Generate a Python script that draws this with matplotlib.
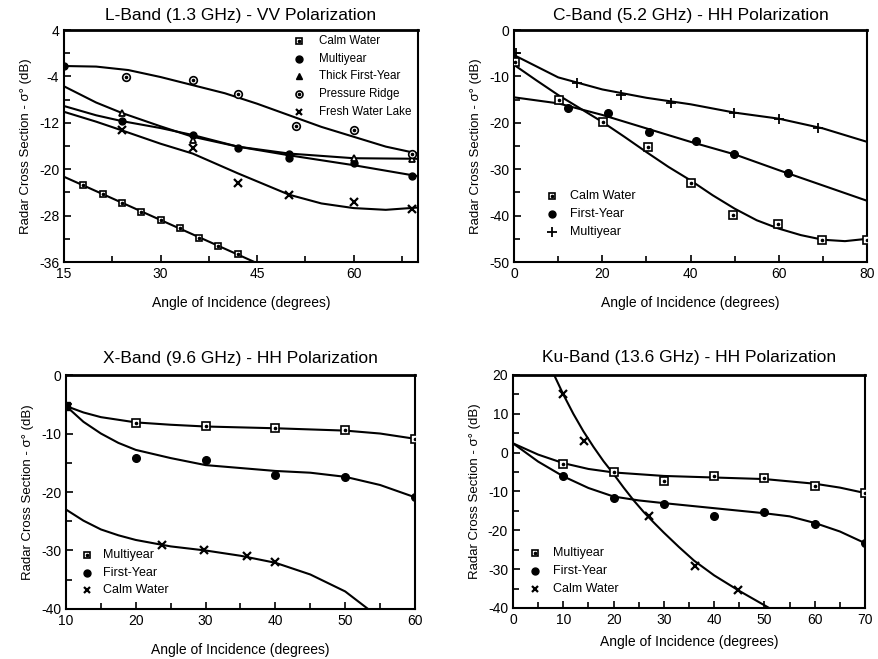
import numpy as np
import matplotlib as mpl
mpl.use('Agg')
from matplotlib import pyplot as plt

plt.rcParams['font.family'] = ['Liberation Sans', 'DejaVu Sans']
plt.rcParams['axes.unicode_minus'] = False

# ---------------- L-Band (1.3 GHz) - VV ----------------
l_calm_x = [18, 21, 24, 27, 30, 33, 36, 39, 42]
l_calm_y = [-22.8, -24.2, -25.8, -27.3, -28.8, -30.2, -31.9, -33.2, -34.7]
l_calm_cx = [15, 45]
l_calm_cy = [-21.3, -36.2]

l_multi_x = [15, 24, 35, 42, 50, 50, 60, 69]
l_multi_y = [-2.2, -11.7, -14.1, -16.3, -17.4, -18.0, -18.9, -21.2]
l_multi_cx = [15, 20, 24, 30, 35, 42, 50, 60, 70]
l_multi_cy = [-9.1, -10.7, -11.7, -12.9, -14.1, -16.1, -17.6, -19.3, -21.2]

l_thick_x = [24, 35, 60, 69]
l_thick_y = [-10.3, -15.0, -18.0, -18.3]
l_thick_cx = [15, 20, 24, 30, 35, 42, 50, 60, 70]
l_thick_cy = [-5.7, -8.5, -10.3, -12.6, -14.4, -16.1, -17.3, -18.1, -18.2]

l_ridge_x = [24.7, 35, 42, 51, 60, 69]
l_ridge_y = [-4.1, -4.6, -7.1, -12.6, -13.3, -17.3]
l_ridge_cx = [15, 20, 25, 30, 35, 40, 45, 50, 55, 60, 65, 70]
l_ridge_cy = [-2.2, -2.3, -2.9, -4.1, -5.5, -6.9, -8.7, -10.7, -12.7, -14.4, -16.1, -17.3]

l_lake_x = [24, 35, 42, 50, 60, 69]
l_lake_y = [-13.3, -16.3, -22.4, -24.4, -25.6, -26.8]
l_lake_cx = [15, 20, 24, 30, 35, 42, 50, 55, 60, 65, 70]
l_lake_cy = [-10.1, -11.8, -13.3, -15.6, -17.3, -20.7, -24.4, -25.9, -26.7, -27.0, -26.6]

# ---------------- C-Band (5.2 GHz) - HH ----------------
c_calm_x = [0.2, 10.2, 20.2, 30.3, 40.2, 49.7, 59.8, 69.8, 80]
c_calm_y = [-6.8, -15.0, -19.9, -25.2, -32.9, -39.9, -41.9, -45.2, -45.2]
c_calm_cx = [0, 5, 10, 15, 20, 25, 30, 35, 40, 45, 50, 55, 60, 65, 70, 75, 80]
c_calm_cy = [-7.5, -10.8, -14.0, -16.9, -19.8, -23.0, -26.3, -29.5, -32.4,
             -35.6, -38.5, -41.0, -42.8, -44.2, -45.2, -45.5, -45.0]

c_first_x = [12.2, 21.2, 30.6, 41.2, 49.8, 62.1]
c_first_y = [-16.9, -17.8, -21.9, -24.0, -26.8, -30.9]
c_first_cx = [0, 10, 20, 30, 40, 50, 60, 70, 80]
c_first_cy = [-14.5, -15.8, -18.3, -21.2, -24.1, -26.8, -30.2, -33.5, -36.8]

c_multi_x = [0.5, 14.3, 24.2, 35.5, 49.8, 60, 68.9]
c_multi_y = [-4.9, -11.5, -13.9, -15.8, -17.8, -19.1, -21.1]
c_multi_cx = [0, 10, 20, 30, 40, 50, 60, 70, 80]
c_multi_cy = [-5.4, -10.2, -12.8, -14.6, -16.0, -17.8, -19.1, -21.2, -24.1]

# ---------------- X-Band (9.6 GHz) - HH ----------------
x_multi_x = [10, 20, 30, 40, 50, 60]
x_multi_y = [-5.3, -8.25, -8.65, -9.1, -9.4, -10.9]
x_multi_cx = [10, 12.5, 15, 20, 25, 30, 40, 50, 55, 60]
x_multi_cy = [-5.3, -6.4, -7.2, -8.1, -8.5, -8.8, -9.1, -9.5, -10.0, -10.9]

x_first_x = [20, 30, 40, 50, 60]
x_first_y = [-14.1, -14.5, -17.1, -17.5, -20.9]
x_first_cx = [10, 12.5, 15, 17.5, 20, 25, 30, 35, 40, 45, 50, 55, 60]
x_first_cy = [-5.3, -8.0, -10.0, -11.6, -12.8, -14.2, -15.4, -15.9, -16.4,
              -16.7, -17.4, -18.8, -20.9]

x_calm_x = [23.8, 29.8, 36, 40]
x_calm_y = [-29.0, -30.0, -31.0, -31.9]
x_calm_cx = [10, 12.5, 15, 17.5, 20, 25, 30, 35, 40, 45, 50, 53.5]
x_calm_cy = [-23.0, -24.9, -26.4, -27.4, -28.2, -29.3, -30.0, -30.9, -32.1,
             -34.1, -37.0, -40.2]

# ---------------- Ku-Band (13.6 GHz) - HH ----------------
k_multi_x = [10, 20.1, 30.1, 40, 49.9, 60, 70]
k_multi_y = [-2.9, -4.9, -7.2, -6.1, -6.6, -8.5, -10.4]
k_multi_cx = [0, 5, 10, 15, 20, 30, 40, 50, 60, 65, 70]
k_multi_cy = [2.4, -0.5, -2.7, -4.2, -5.1, -6.0, -6.4, -6.8, -8.0, -9.0, -10.4]

k_first_x = [10, 20.1, 30.1, 40, 49.9, 60, 70]
k_first_y = [-6.1, -11.7, -13.2, -16.3, -15.3, -18.4, -23.3]
k_first_cx = [0, 5, 10, 15, 20, 25, 30, 40, 50, 55, 60, 65, 70]
k_first_cy = [2.4, -2.3, -6.1, -9.1, -11.3, -12.3, -13.0, -14.3, -15.6, -16.4,
              -18.1, -20.3, -23.3]

k_calm_x = [10, 14.2, 27.1, 36.1, 44.8]
k_calm_y = [15.1, 3.1, -16.2, -29.1, -35.3]
k_calm_cx = [8, 10, 12, 14, 16, 18, 20, 22, 24, 26, 28, 30, 33, 36, 40, 45, 50, 52]
k_calm_cy = [20.5, 15.0, 10.0, 5.5, 1.5, -2.2, -5.5, -9.0, -12.3, -15.3, -18.0,
             -20.6, -24.3, -27.8, -31.6, -35.6, -39.3, -40.8]


def dotted(ax, x, y, marker, size):
    # open marker with a small dot inside, like the scanned symbols
    ax.plot(x, y, linestyle='none', marker=marker, ms=size, mfc='white',
            mec='black', mew=1.2, zorder=4)
    ax.plot(x, y, linestyle='none', marker='o', ms=1.6, mfc='black',
            mec='black', zorder=5)


def style(ax, title, xlim, ylim, xmaj, xmin, ymaj, ymin, title_pad=7):
    ax.set_xlim(xlim)
    ax.set_ylim(ylim)
    ax.set_xticks(np.arange(xlim[0], xlim[1] + 0.01, xmaj))
    ax.set_xticks(np.arange(xlim[0], xlim[1] + 0.01, xmin), minor=True)
    ax.set_yticks(np.arange(ylim[0], ylim[1] + 0.01, ymaj))
    ax.set_yticks(np.arange(ylim[0], ylim[1] + 0.01, ymin), minor=True)
    ax.tick_params(which='both', direction='in', top=False, right=False,
                   labelsize=10, width=1.2)
    ax.tick_params(which='major', length=5)
    ax.tick_params(which='minor', length=4)
    for s in ax.spines.values():
        s.set_linewidth(1.5)
    ax.spines['top'].set_linewidth(2.0)
    ax.set_title(title, fontsize=12.5, pad=title_pad)
    ax.set_xlabel('Angle of Incidence (degrees)', fontsize=10, labelpad=11)
    ax.set_ylabel('Radar Cross Section - σ° (dB)', fontsize=9.5, labelpad=5)


def legend_text(ax, x, y, name, size=9):
    ax.text(x, y, name, fontsize=size, va='center', ha='left')


fig = plt.figure(figsize=(8.79, 6.59), dpi=100)

line_kw = dict(color='black', lw=1.5, zorder=2, clip_on=True)

# L-Band
ax1 = fig.add_axes([0.0728, 0.6024, 0.4027, 0.352])
ax1.plot(l_calm_cx, l_calm_cy, **line_kw)
ax1.plot(l_multi_cx, l_multi_cy, **line_kw)
ax1.plot(l_thick_cx, l_thick_cy, **line_kw)
ax1.plot(l_ridge_cx, l_ridge_cy, **line_kw)
ax1.plot(l_lake_cx, l_lake_cy, **line_kw)
dotted(ax1, l_calm_x, l_calm_y, 's', 5)
ax1.plot(l_multi_x, l_multi_y, 'o', color='black', ms=5, zorder=4)
ax1.plot(l_thick_x, l_thick_y, '^', mfc='white', mec='black', mew=1.3, ms=5, zorder=4)
dotted(ax1, l_ridge_x, l_ridge_y, 'o', 5.5)
ax1.plot(l_lake_x, l_lake_y, 'x', color='black', mew=1.6, ms=6, zorder=4)
style(ax1, 'L-Band (1.3 GHz) - VV Polarization', (15, 70), (-36, 4), 15, 7.5, 8, 4)
ax1.set_xticks([15, 30, 45, 60])
ax1.set_yticks([4, -4, -12, -20, -28, -36])
leg1 = ['Calm Water', 'Multiyear', 'Thick First-Year', 'Pressure Ridge', 'Fresh Water Lake']
lx, tx = 51.5, 54.6
for i, name in enumerate(leg1):
    legend_text(ax1, tx, 2.1 - 3.05 * i, name, size=8.4)
dotted(ax1, [lx], [2.1], 's', 4.5)
ax1.plot([lx], [2.1 - 3.05], 'o', color='black', ms=5)
ax1.plot([lx], [2.1 - 6.1], '^', color='black', ms=5)
dotted(ax1, [lx], [2.1 - 9.15], 'o', 5)
ax1.plot([lx], [2.1 - 12.2], 'x', color='black', mew=1.6, ms=5)

# C-Band
ax2 = fig.add_axes([0.5848, 0.6024, 0.4016, 0.352])
ax2.plot(c_calm_cx, c_calm_cy, **line_kw)
ax2.plot(c_first_cx, c_first_cy, **line_kw)
ax2.plot(c_multi_cx, c_multi_cy, **line_kw)
dotted(ax2, c_calm_x, c_calm_y, 's', 6)
ax2.plot(c_first_x, c_first_y, 'o', color='black', ms=5.5, zorder=4)
ax2.plot(c_multi_x, c_multi_y, '+', color='black', mew=1.3, ms=7, zorder=4)
style(ax2, 'C-Band (5.2 GHz) - HH Polarization', (0, 80), (-50, 0), 20, 10, 10, 5)
lx, tx = 8.5, 12.6
for i, name in enumerate(['Calm Water', 'First-Year', 'Multiyear']):
    legend_text(ax2, tx, -35.8 - 3.9 * i, name)
dotted(ax2, [lx], [-35.8], 's', 5)
ax2.plot([lx], [-39.7], 'o', color='black', ms=5)
ax2.plot([lx], [-43.6], '+', color='black', mew=1.3, ms=7)

# X-Band
ax3 = fig.add_axes([0.0751, 0.0759, 0.397, 0.355])
ax3.plot(x_multi_cx, x_multi_cy, **line_kw)
ax3.plot(x_first_cx, x_first_cy, **line_kw)
ax3.plot(x_calm_cx, x_calm_cy, **line_kw)
dotted(ax3, x_multi_x[1:], x_multi_y[1:], 's', 6)
ax3.plot(x_multi_x[:1], x_multi_y[:1], 's', color='black', ms=6, zorder=4)
ax3.plot(x_first_x, x_first_y, 'o', color='black', ms=5.5, zorder=4)
ax3.plot(x_calm_x, x_calm_y, 'x', color='black', mew=1.6, ms=6, zorder=4)
style(ax3, 'X-Band (9.6 GHz) - HH Polarization', (10, 60), (-40, 0), 10, 5, 10, 5, title_pad=9)
lx, tx = 13.0, 15.3
for i, name in enumerate(['Multiyear', 'First-Year', 'Calm Water']):
    legend_text(ax3, tx, -30.8 - 3.0 * i, name)
dotted(ax3, [lx], [-30.8], 's', 5)
ax3.plot([lx], [-33.8], 'o', color='black', ms=5)
ax3.plot([lx], [-36.8], 'x', color='black', mew=1.6, ms=5)

# Ku-Band
ax4 = fig.add_axes([0.5836, 0.0774, 0.4005, 0.3536])
ax4.plot(k_multi_cx, k_multi_cy, **line_kw)
ax4.plot(k_first_cx, k_first_cy, **line_kw)
ax4.plot(k_calm_cx, k_calm_cy, **line_kw)
dotted(ax4, k_multi_x, k_multi_y, 's', 6)
ax4.plot(k_first_x, k_first_y, 'o', color='black', ms=5.5, zorder=4)
ax4.plot(k_calm_x, k_calm_y, 'x', color='black', mew=1.6, ms=6, zorder=4)
style(ax4, 'Ku-Band (13.6 GHz) - HH Polarization', (0, 70), (-40, 20), 10, 5, 10, 5, title_pad=9)
ax4.xaxis.labelpad = 6
lx, tx = 4.3, 8.0
for i, name in enumerate(['Multiyear', 'First-Year', 'Calm Water']):
    legend_text(ax4, tx, -25.8 - 4.6 * i, name)
dotted(ax4, [lx], [-25.8], 's', 5)
ax4.plot([lx], [-30.4], 'o', color='black', ms=5)
ax4.plot([lx], [-35.0], 'x', color='black', mew=1.6, ms=5)

fig.savefig('out.png', dpi=100)
plt.close('all')
